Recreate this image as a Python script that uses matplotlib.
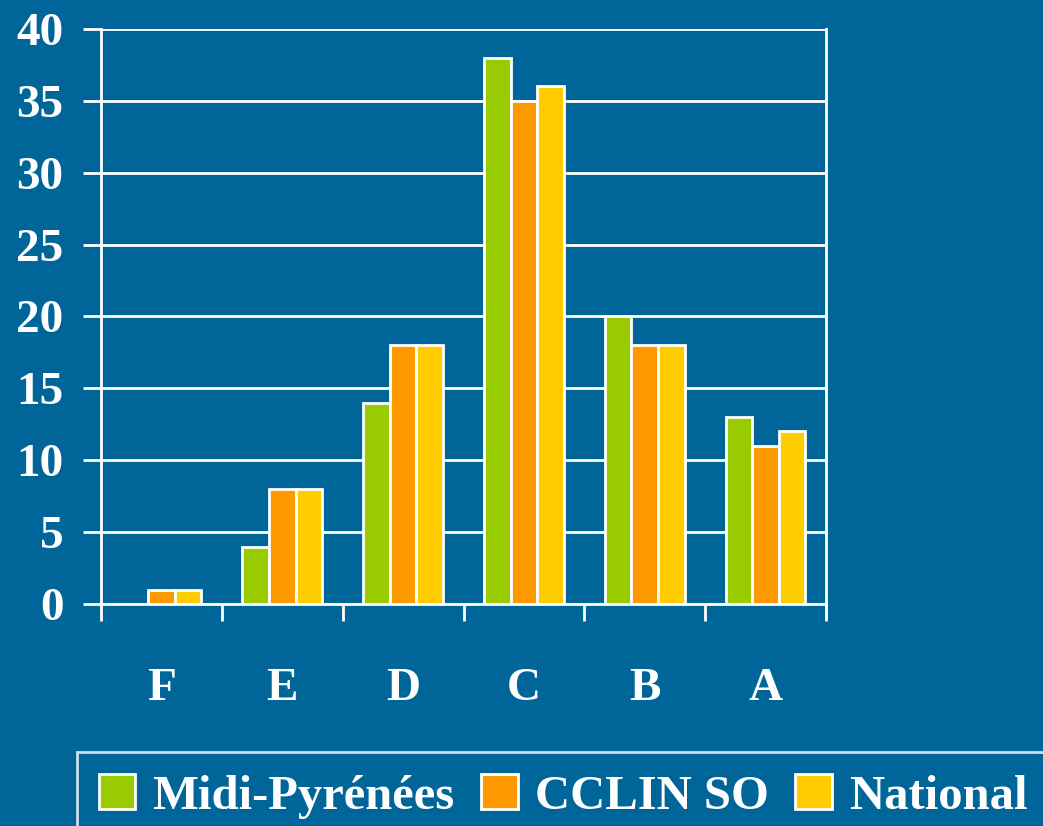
import matplotlib
matplotlib.use("Agg")
import matplotlib.pyplot as plt
import numpy as np

# data
categories = ["F", "E", "D", "C", "B", "A"]
midi_pyrenees = [0, 4, 14, 38, 20, 13]
cclin_so = [1, 8, 18, 35, 18, 11]
national = [1, 8, 18, 36, 18, 12]
series_names = ["Midi-Pyrénées", "CCLIN SO", "National"]
yticks = [0, 5, 10, 15, 20, 25, 30, 35, 40]

bg = "#006699"
colors = ["#99CC00", "#FF9900", "#FFCC00"]

plt.rcParams['font.family'] = ['Liberation Serif', 'DejaVu Serif']
plt.rcParams['font.weight'] = 'bold'

fig = plt.figure(figsize=(10.43, 8.26), dpi=100, facecolor=bg)
ax = fig.add_axes([101/1043, 1 - 604/826, (826-101)/1043, (604-29)/826])
ax.set_facecolor(bg)

x = np.arange(len(categories))
w = 0.22
for k, vals in enumerate([midi_pyrenees, cclin_so, national]):
    ax.bar(x + (k - 1) * w, vals, width=w, color=colors[k], edgecolor="white",
           linewidth=2, label=series_names[k], zorder=3)

ax.set_xlim(-0.5, len(categories) - 0.5)
ax.set_ylim(0, 40)
ax.set_yticks(yticks)
ax.set_yticklabels([str(v) for v in yticks])
ax.yaxis.grid(True, color="white", linewidth=2, zorder=0)

# category boundaries get the tick marks, labels sit at the centres
ax.set_xticks(np.arange(-0.5, len(categories), 1.0))
ax.set_xticklabels([])
ax.set_xticks(x, minor=True)
ax.set_xticklabels(categories, minor=True)
ax.tick_params(axis="x", which="major", direction="out", length=12, width=2, color="white")
ax.tick_params(axis="x", which="minor", length=0, pad=46, labelsize=34, labelcolor="white")
ax.tick_params(axis="y", direction="out", length=13, width=2, color="white",
               labelsize=34, labelcolor="white", pad=14)

for s in ["left", "bottom", "right"]:
    ax.spines[s].set_color("white")
    ax.spines[s].set_linewidth(2)
ax.spines["top"].set_visible(False)
ax.spines["right"].set_bounds(-1.0, 40)
ax.spines["right"].set_clip_on(False)

leg = fig.legend(loc="upper left", bbox_to_anchor=(77/1043, 1 - 752/826), ncol=3,
                 frameon=True, fancybox=False, fontsize=35, handlelength=0.75,
                 handleheight=0.75, handletextpad=0.35, columnspacing=0.55,
                 borderpad=0.45, borderaxespad=0, labelcolor="white")
leg.get_frame().set_facecolor(bg)
leg.get_frame().set_edgecolor("white")
leg.get_frame().set_linewidth(2)

fig.savefig("out.png", dpi=100, facecolor=bg)
